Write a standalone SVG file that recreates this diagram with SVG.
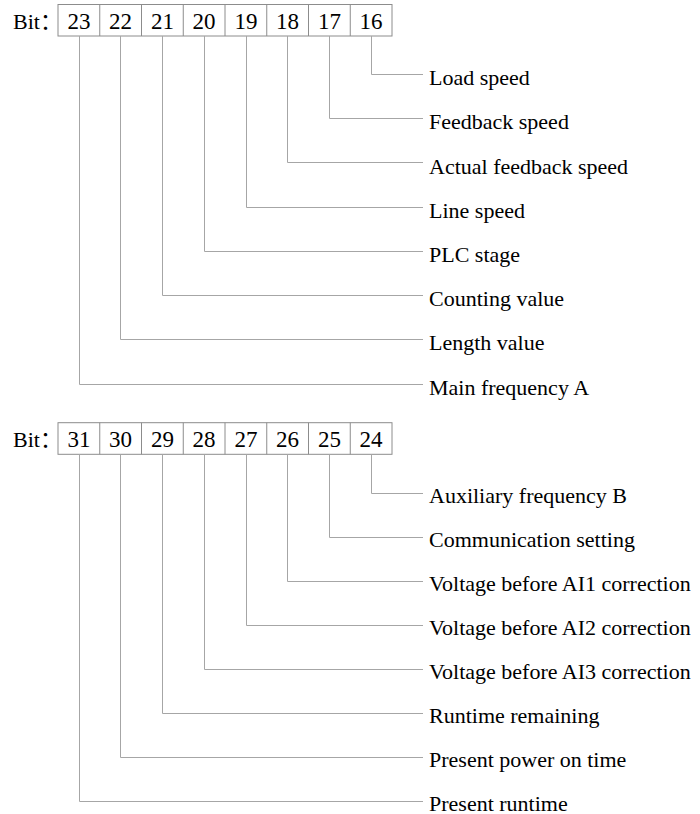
<svg xmlns="http://www.w3.org/2000/svg" width="700" height="814" viewBox="0 0 700 814">
<style>
.box{fill:#fff;stroke:#8c8c8c;stroke-width:1}
.ln{fill:none;stroke:#a6a6a6;stroke-width:1}
text{font-family:"Liberation Serif","Times New Roman","Noto Sans CJK SC",serif;font-size:22px;fill:#000}
.c{text-anchor:middle;font-size:23px}
</style>
<rect width="700" height="814" fill="#fff"/>
<g id="register1">
<text x="13" y="28.5">Bit：</text>
<rect class="box" x="58" y="4.5" width="334" height="31.5"/>
<path class="ln" style="stroke:#8c8c8c" d="M99.75 4.5V36M141.5 4.5V36M183.25 4.5V36M225 4.5V36M266.75 4.5V36M308.5 4.5V36M350.25 4.5V36"/>
<text class="c" x="78.9" y="28.5">23</text>
<text class="c" x="120.6" y="28.5">22</text>
<text class="c" x="162.4" y="28.5">21</text>
<text class="c" x="204.1" y="28.5">20</text>
<text class="c" x="245.9" y="28.5">19</text>
<text class="c" x="287.6" y="28.5">18</text>
<text class="c" x="329.4" y="28.5">17</text>
<text class="c" x="371.1" y="28.5">16</text>
</g>
<g id="connectors1">
<path class="ln" d="M371.5 36V74.5H423"/>
<path class="ln" d="M329.5 36V118.5H423"/>
<path class="ln" d="M287.5 36V162.5H423"/>
<path class="ln" d="M246.5 36V207.5H423"/>
<path class="ln" d="M204.5 36V251.5H423"/>
<path class="ln" d="M162.5 36V295.5H423"/>
<path class="ln" d="M120.5 36V339.5H423"/>
<path class="ln" d="M79.5 36V384.5H423"/>
</g>
<g id="labels1">
<text x="429" y="85">Load speed</text>
<text x="429" y="129.2">Feedback speed</text>
<text x="429" y="173.5">Actual feedback speed</text>
<text x="429" y="217.7">Line speed</text>
<text x="429" y="262">PLC stage</text>
<text x="429" y="306.2">Counting value</text>
<text x="429" y="350.4">Length value</text>
<text x="429" y="394.7">Main frequency A</text>
</g>
<g id="register2">
<text x="13" y="446.7">Bit：</text>
<rect class="box" x="58" y="422.7" width="334" height="31.6"/>
<path class="ln" style="stroke:#8c8c8c" d="M99.75 422.7V454.3M141.5 422.7V454.3M183.25 422.7V454.3M225 422.7V454.3M266.75 422.7V454.3M308.5 422.7V454.3M350.25 422.7V454.3"/>
<text class="c" x="78.9" y="446.7">31</text>
<text class="c" x="120.6" y="446.7">30</text>
<text class="c" x="162.4" y="446.7">29</text>
<text class="c" x="204.1" y="446.7">28</text>
<text class="c" x="245.9" y="446.7">27</text>
<text class="c" x="287.6" y="446.7">26</text>
<text class="c" x="329.4" y="446.7">25</text>
<text class="c" x="371.1" y="446.7">24</text>
</g>
<g id="connectors2">
<path class="ln" d="M371.5 454.3V493.5H423"/>
<path class="ln" d="M329.5 454.3V537.5H423"/>
<path class="ln" d="M287.5 454.3V581.5H423"/>
<path class="ln" d="M246.5 454.3V625.5H423"/>
<path class="ln" d="M204.5 454.3V669.5H423"/>
<path class="ln" d="M162.5 454.3V713.5H423"/>
<path class="ln" d="M120.5 454.3V757.5H423"/>
<path class="ln" d="M79.5 454.3V801.5H423"/>
</g>
<g id="labels2">
<text x="429" y="502.5">Auxiliary frequency B</text>
<text x="429" y="546.5">Communication setting</text>
<text x="429" y="590.5">Voltage before AI1 correction</text>
<text x="429" y="634.5">Voltage before AI2 correction</text>
<text x="429" y="678.5">Voltage before AI3 correction</text>
<text x="429" y="722.5">Runtime remaining</text>
<text x="429" y="766.5">Present power on time</text>
<text x="429" y="810.5">Present runtime</text>
</g>
</svg>
